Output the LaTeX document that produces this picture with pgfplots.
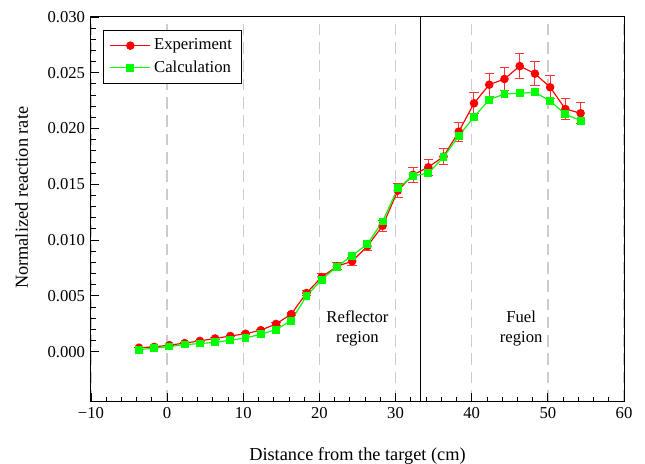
\documentclass[border=0pt]{standalone}
\usepackage{fontspec}
\setmainfont{Liberation Serif}
\usepackage{pgfplots}
\usepackage{pgfplotstable}
\pgfplotsset{compat=1.18}

\pgfplotstableread{
x y ey
-3.7 0.00035 0.000015
-1.7 0.00042 0.000018
0.3 0.00058 0.000025
2.3 0.00076 0.000033
4.3 0.00096 0.000041
6.3 0.00118 0.000051
8.3 0.00140 0.000060
10.3 0.00160 0.000069
12.3 0.00192 0.000083
14.3 0.00248 0.000107
16.3 0.00336 0.000144
18.3 0.00525 0.000226
20.3 0.00668 0.000287
22.3 0.00765 0.000329
24.3 0.00810 0.000348
26.3 0.00945 0.000406
28.3 0.01128 0.000485
30.3 0.01444 0.000621
32.3 0.01585 0.000682
34.3 0.01653 0.000711
36.3 0.01749 0.000752
38.3 0.01972 0.000848
40.3 0.02226 0.000957
42.3 0.02393 0.001029
44.3 0.02444 0.001051
46.3 0.02560 0.001101
48.3 0.02492 0.001072
50.3 0.02370 0.001019
52.3 0.02175 0.000935
54.3 0.02137 0.000919
}\expdata

\pgfplotstableread{
x y ey
-3.7 0.00018 0.00010
-1.7 0.00030 0.00010
0.3 0.00045 0.00010
2.3 0.00063 0.00010
4.3 0.00072 0.00010
6.3 0.00083 0.00010
8.3 0.00101 0.00010
10.3 0.00123 0.00010
12.3 0.00155 0.00010
14.3 0.00197 0.00010
16.3 0.00278 0.00010
18.3 0.00498 0.00010
20.3 0.00645 0.00012
22.3 0.00762 0.00012
24.3 0.00860 0.00012
26.3 0.00964 0.00012
28.3 0.01167 0.00015
30.3 0.01465 0.00015
32.3 0.01576 0.00015
34.3 0.01600 0.00016
36.3 0.01743 0.00017
38.3 0.01934 0.00019
40.3 0.02104 0.00021
42.3 0.02259 0.00022
44.3 0.02310 0.00023
46.3 0.02316 0.00023
48.3 0.02325 0.00023
50.3 0.02247 0.00022
52.3 0.02128 0.00021
54.3 0.02071 0.00021
}\calcdata

\definecolor{expred}{RGB}{255,0,0}
\definecolor{calcgreen}{RGB}{0,255,0}

\begin{document}
\begin{tikzpicture}
\begin{axis}[
  scale only axis, width=320pt, height=231pt,
  xmin=-10, xmax=60, ymin=-0.0045, ymax=0.030,
  xtick={-10,0,10,20,30,40,50,60},
  xticklabels={−10,0,10,20,30,40,50,60},
  ytick={0,0.005,0.010,0.015,0.020,0.025,0.030},
  yticklabels={0.000,0.005,0.010,0.015,0.020,0.025,0.030},
  scaled x ticks=false, scaled y ticks=false,
  minor x tick num=4, minor y tick num=4,
  tick align=inside, xtick pos=bottom, ytick pos=left,
  major tick length=5pt, minor tick length=3pt,
  axis line style={line width=0.6pt},
  every tick/.style={black, line width=0.5pt},
  xmajorgrids,
  x grid style={gray!40, line width=0.9pt, dash pattern=on 7pt off 4pt},
  xlabel={Distance from the target (cm)},
  ylabel={Normalized reaction rate},
  every axis x label/.style={at={(axis description cs:0.5,-0.14)}, anchor=center, font=\fontsize{11}{13}\selectfont},
  every axis y label/.style={at={(axis description cs:-0.13,0.53)}, rotate=90, anchor=center, font=\fontsize{11}{13}\selectfont},
  legend style={at={(axis description cs:0.022,0.966)}, anchor=north west, draw=black, line width=0.6pt, inner xsep=4pt, inner ysep=3pt, row sep=1pt, font=\normalsize},
  legend cell align=left,
  legend image code/.code={\draw[mark repeat=2,mark phase=2] plot coordinates {(0cm,0cm)(0.42cm,0cm)(0.84cm,0cm)};},
]
\addplot[black, line width=0.7pt, forget plot] coordinates {(33.3,-0.0045) (33.3,0.030)};

\addplot[expred, line width=0.7pt, mark=*, mark size=2.2pt,
  error bars/.cd, y dir=both, y explicit,
  error bar style={expred!80, line width=0.6pt}, error mark options={rotate=90, mark size=2.8pt, expred!80, line width=0.6pt}]
  table[x=x, y=y, y error=ey] {\expdata};
\addlegendentry{Experiment}

\addplot[calcgreen, line width=0.7pt, mark=square*, mark size=2pt,
  error bars/.cd, y dir=both, y explicit,
  error bar style={calcgreen, line width=0.6pt}, error mark options={rotate=90, mark size=2.2pt, calcgreen, line width=0.6pt}]
  table[x=x, y=y, y error=ey] {\calcdata};
\addlegendentry{Calculation}

\node[align=center, font=\normalsize] at (axis cs:25,0.0021) {Reflector\\region};
\node[align=center, font=\normalsize] at (axis cs:46.5,0.0021) {Fuel\\region};
\end{axis}
\pgfresetboundingbox
\path ([shift={(-54.6pt,-37.2pt)}]current axis.south west) rectangle ([shift={(12.6pt,10.2pt)}]current axis.north east);
\end{tikzpicture}
\end{document}
